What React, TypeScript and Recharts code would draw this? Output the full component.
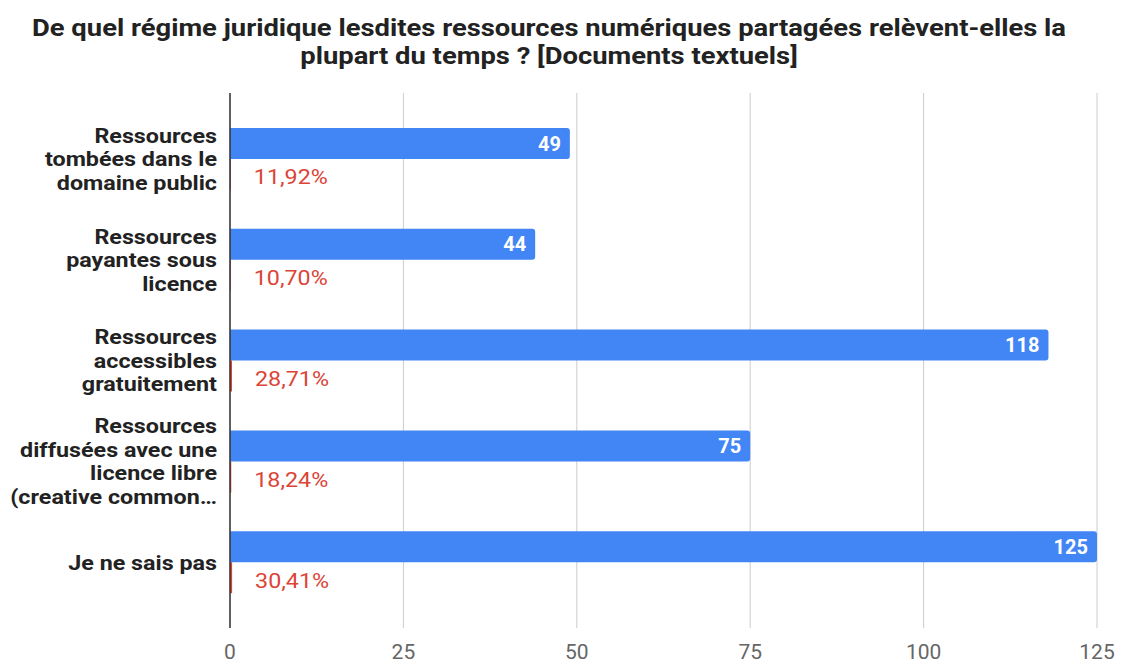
import React from "react";
import { BarChart, Bar, XAxis, YAxis, CartesianGrid, LabelList } from "recharts";

const titleLines = [
  "De quel régime juridique lesdites ressources numériques partagées relèvent-elles la",
  "plupart du temps ? [Documents textuels]",
];

const categories = [
  "Ressources tombées dans le domaine public",
  "Ressources payantes sous licence",
  "Ressources accessibles gratuitement",
  "Ressources diffusées avec une licence libre (creative commons)",
  "Je ne sais pas",
];

const categoryLines = [
  ["Ressources", "tombées dans le", "domaine public"],
  ["Ressources", "payantes sous", "licence"],
  ["Ressources", "accessibles", "gratuitement"],
  ["Ressources", "diffusées avec une", "licence libre", "(creative common…"],
  ["Je ne sais pas"],
];

const counts = [49, 44, 118, 75, 125];
const shares = [0.1192, 0.107, 0.2871, 0.1824, 0.3041];

const xTicks = [0, 25, 50, 75, 100, 125];

const data = categories.map((name, i) => ({
  name,
  count: counts[i],
  share: shares[i],
}));

const FONT = "Roboto, 'Noto Sans', sans-serif";
const BLUE = "#4285F4";
const RED = "#DB4437";
const STRETCH = 1.165;

const formatShare = (v: any) =>
  (Number(v) * 100).toFixed(2).replace(".", ",") + "%";

const CategoryTick = (props: any) => {
  const { x, y, payload } = props;
  const idx = categories.indexOf(payload.value);
  const lines = idx >= 0 ? categoryLines[idx] : [String(payload.value)];
  const lh = 23.5;
  const n = lines.length;
  return (
    <g transform={`translate(${x},${y}) scale(${STRETCH},1)`}>
      <text
        x={0}
        y={0}
        textAnchor="end"
        fill="#222"
        fontFamily={FONT}
        fontWeight={700}
        fontSize={20}
      >
        {lines.map((l, i) => (
          <tspan
            key={i}
            x={0}
            y={(i - (n - 1) / 2) * lh}
            dominantBaseline="central"
          >
            {l}
          </tspan>
        ))}
      </text>
    </g>
  );
};

const ShareLabel = (props: any) => {
  const { x, y, width, height, value } = props;
  const tx = Number(x) + Number(width) + 23;
  const ty = Number(y) + Number(height) / 2 + 3;
  return (
    <g transform={`translate(${tx},${ty}) scale(${STRETCH},1)`}>
      <text
        x={0}
        y={0}
        textAnchor="start"
        dominantBaseline="central"
        fill={RED}
        fontFamily={FONT}
        fontSize={20}
      >
        {formatShare(value)}
      </text>
    </g>
  );
};

export default function App() {
  return (
    <div
      style={{
        position: "absolute",
        left: 0,
        top: 0,
        width: 1121,
        height: 664,
        background: "#fff",
        fontFamily: FONT,
      }}
    >
      <div
        style={{
          position: "absolute",
          left: 0,
          top: 14,
          width: 1098,
          textAlign: "center",
          fontWeight: 700,
          fontSize: 23.5,
          lineHeight: "28px",
          color: "#222",
          fontFamily: FONT,
          transform: `scaleX(${STRETCH})`,
          transformOrigin: "549px 0",
          whiteSpace: "nowrap",
        }}
      >
        {titleLines.map((l, i) => (
          <div key={i}>{l}</div>
        ))}
      </div>
      <BarChart
        width={1121}
        height={664}
        data={data}
        layout="vertical"
        margin={{ top: 93, right: 24, bottom: 6, left: 0 }}
        barGap={0}
      >
        <CartesianGrid horizontal={false} vertical={true} stroke="#ccc" />
        <XAxis
          type="number"
          domain={[0, 125]}
          ticks={xTicks}
          axisLine={false}
          tickLine={false}
          tickSize={0}
          tickMargin={16}
          height={30}
          tick={{ fill: "#666", fontSize: 21, fontFamily: FONT }}
          interval={0}
        />
        <YAxis
          type="category"
          dataKey="name"
          width={230}
          axisLine={{ stroke: "#333", strokeWidth: 1.5 }}
          tickLine={false}
          tickSize={0}
          tickMargin={13}
          padding={{ top: 16, bottom: 15 }}
          tick={<CategoryTick />}
          interval={0}
        />
        <Bar
          dataKey="count"
          fill={BLUE}
          barSize={31}
          radius={[0, 3, 3, 0]}
          isAnimationActive={false}
        >
          <LabelList
            dataKey="count"
            position="insideRight"
            offset={9}
            fill="#fff"
            fontWeight={700}
            fontSize={20}
            fontFamily={FONT}
          />
        </Bar>
        <Bar dataKey="share" fill={RED} barSize={31} isAnimationActive={false}>
          <LabelList dataKey="share" content={<ShareLabel />} />
        </Bar>
      </BarChart>
    </div>
  );
}
